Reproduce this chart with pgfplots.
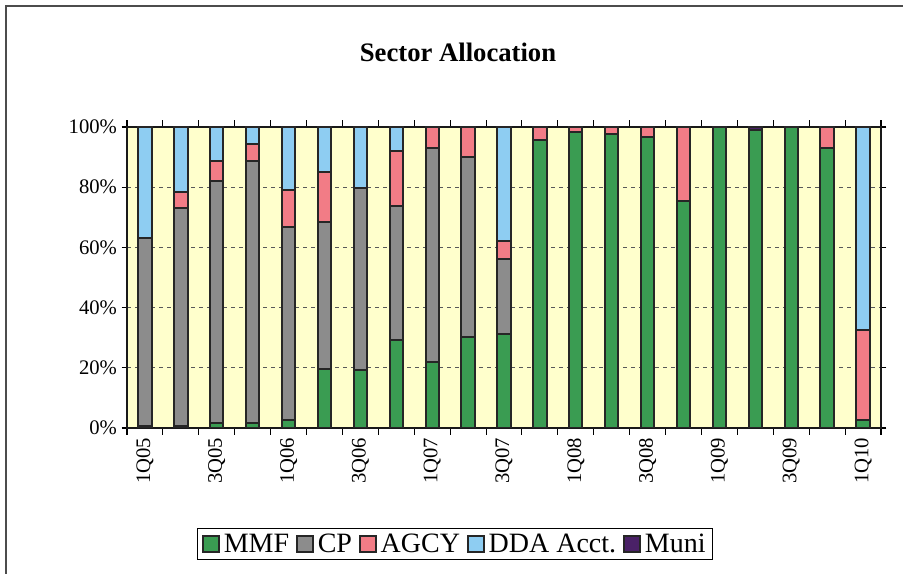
\documentclass[border=0pt]{standalone}
\usepackage{pgfplots}
\pgfplotsset{compat=1.18}
\usepackage{pgfplotstable}
\usepackage{fontspec}
\setmainfont{Liberation Serif}
\definecolor{mmf}{RGB}{58,156,82}
\definecolor{cp}{RGB}{140,140,140}
\definecolor{agcy}{RGB}{242,124,134}
\definecolor{dda}{RGB}{142,205,242}
\definecolor{muni}{RGB}{74,33,103}
\definecolor{bgy}{RGB}{255,255,204}
\pgfplotstableread{
x MMF CP AGCY DDA Muni
0 0.5 62.7 0 36.8 0
1 0.5 72.7 5.1 21.7 0
2 1.5 80.6 6.6 11.3 0
3 1.5 87.2 5.8 5.5 0
4 2.5 64.2 12.5 20.8 0
5 19.6 48.9 16.4 15.1 0
6 19.4 60.2 0 20.4 0
7 29.2 44.7 18.1 8.0 0
8 21.8 71.1 7.1 0 0
9 30.1 59.9 10.0 0 0
10 31.2 24.8 6.1 37.9 0
11 95.7 0 4.3 0 0
12 98.2 0 1.8 0 0
13 97.8 0 2.2 0 0
14 96.7 0 3.3 0 0
15 75.4 0 24.6 0 0
16 100 0 0 0 0
17 99.1 0 0 0 0.9
18 100 0 0 0 0
19 92.9 0 7.1 0 0
20 2.7 0 29.9 67.4 0
}\datatable
\begin{document}
\begin{tikzpicture}
\useasboundingbox (0,0) rectangle (677.25pt,430.5pt);
\draw[line width=1.1pt, black!70] (4.5pt,0) -- (4.5pt,426pt) -- (677.25pt,426pt);
\node[font=\fontsize{20}{23}\selectfont\bfseries] at (343.5pt,391.5pt) {Sector Allocation};
\begin{axis}[
  at={(95.25pt,109.5pt)}, anchor=south west,
  scale only axis, width=565.5pt, height=225.75pt,
  ybar stacked, bar width=10pt,
  xmin=-0.5, xmax=20.5, ymin=0, ymax=100,
  axis background/.style={fill=bgy},
  axis line style={line width=1.6pt, black!90},
  xtick={0,2,...,20},
  xticklabels={1Q05,3Q05,1Q06,3Q06,1Q07,3Q07,1Q08,3Q08,1Q09,3Q09,1Q10},
  minor xtick={-0.5,0.5,...,20.5},
  major x tick style={draw=none},
  minor x tick style={black, line width=0.8pt},
  minor tick length=5pt,
  tick align=outside,
  xticklabel style={rotate=90, anchor=east, font=\fontsize{15.5}{18}\selectfont},
  ytick={0,20,...,100},
  yticklabels={0\%,20\%,40\%,60\%,80\%,100\%},
  yticklabel style={font=\fontsize{15.5}{18}\selectfont},
  major y tick style={black, line width=0.8pt},
  major tick length=4pt,
  ymajorgrids, grid style={dashed, black!65, line width=0.7pt},
  every axis plot/.append style={draw=black!85, line width=1.5pt},
  legend columns=5,
  legend style={at={(0.435,-0.385)}, anchor=center, draw=black, line width=0.7pt,
    font=\fontsize{21}{24}\selectfont, inner xsep=3pt, inner ysep=2pt,
    /tikz/every even column/.append style={column sep=3pt},
    /tikz/every odd column/.append style={column sep=1pt}},
  legend image code/.code={\draw[#1, line width=1.5pt] (0pt,-6pt) rectangle (12pt,6pt);},
]
\addplot[fill=mmf] table[x=x,y=MMF] {\datatable};
\addplot[fill=cp] table[x=x,y=CP] {\datatable};
\addplot[fill=agcy] table[x=x,y=AGCY] {\datatable};
\addplot[fill=dda] table[x=x,y=DDA] {\datatable};
\addplot[fill=muni] table[x=x,y=Muni] {\datatable};
\legend{MMF,CP,AGCY,DDA Acct.,Muni}
\end{axis}
\end{tikzpicture}
\end{document}
